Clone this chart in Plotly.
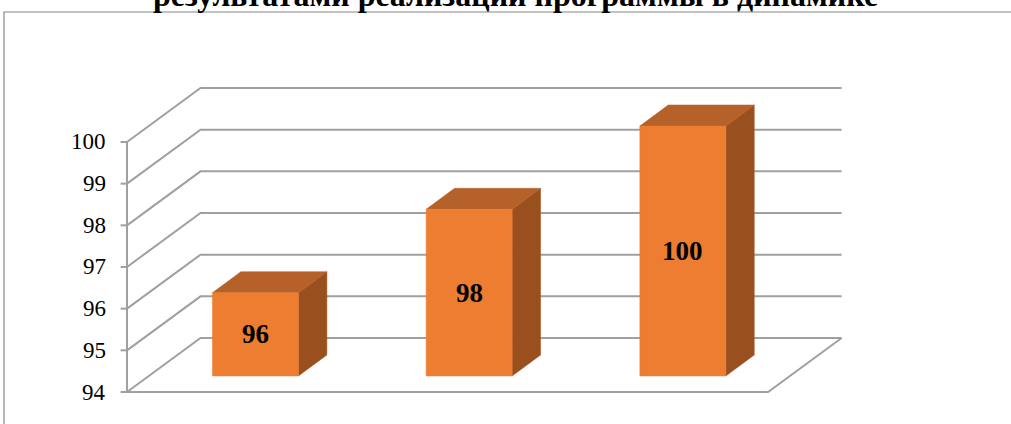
import plotly.graph_objects as go

# ---- data ----
categories = ["1", "2", "3"]
values = [96, 98, 100]
value_labels = ["96", "98", "100"]
y_ticks = [94, 95, 96, 97, 98, 99, 100]
y_tick_labels = ["94", "95", "96", "97", "98", "99", "100"]
title_text = "результатами реализации программы в динамике"

# ---- geometry (in data units) ----
Y0 = 94.0                       # floor value
DX, DY = 0.344, 1.296           # total depth offset of back wall
FX, FY = 0.101, 0.384           # bar front face offset
BX, BY = 0.133, 0.504           # bar depth
BW = 0.4024                     # bar width
X0, X1 = -0.5, len(categories) - 0.5

GRID = "#A0A0A0"
FRONT = "#ED7D31"
TOP = "#B6602A"
SIDE = "#9A501E"

fig = go.Figure()


def poly(xs, ys, color, width=0, fill=None):
    fig.add_trace(go.Scatter(
        x=xs, y=ys, mode="lines",
        line=dict(color=color, width=width),
        fill="toself" if fill else None,
        fillcolor=fill,
        hoverinfo="skip", showlegend=False,
    ))


# back wall gridlines (with diagonal on left wall)
for v in y_ticks:
    poly([X0, X0 + DX, X1 + DX], [v, v + DY, v + DY], GRID, 2)

# floor
poly([X0, X1, X1 + DX], [Y0, Y0, Y0 + DY], GRID, 2)

# front vertical axis + tick marks
poly([X0, X0], [Y0, y_ticks[-1]], GRID, 2)
for v in y_ticks:
    poly([X0 - 0.03, X0], [v, v], GRID, 2)

# bars
for i, v in enumerate(values):
    xl = i - BW / 2 + FX
    xr = i + BW / 2 + FX
    yb = Y0 + FY
    yt = v + FY
    # side face
    poly([xr, xr + BX, xr + BX, xr, xr], [yb, yb + BY, yt + BY, yt, yb], SIDE, 0.5, SIDE)
    # top face
    poly([xl, xr, xr + BX, xl + BX, xl], [yt, yt, yt + BY, yt + BY, yt], TOP, 0.5, TOP)
    # front face
    poly([xl, xr, xr, xl, xl], [yb, yb, yt, yt, yb], FRONT, 0.5, FRONT)
    fig.add_annotation(
        x=i + FX, y=(yb + yt) / 2, xref="x", yref="y",
        text=f"<b>{value_labels[i]}</b>", showarrow=False,
        font=dict(family="Liberation Serif", size=27, color="black"),
        xanchor="center", yanchor="middle",
    )

# tick labels
for v, lab in zip(y_ticks, y_tick_labels):
    fig.add_annotation(
        x=X0 - 0.09, y=v, xref="x", yref="y",
        text=lab, showarrow=False,
        font=dict(family="Liberation Serif", size=23, color="black"),
        xanchor="right", yanchor="middle",
    )

W, H = 1011, 424

# outer chart frame (only left and top edges fall inside the picture)
fig.add_shape(type="rect", xref="paper", yref="paper",
              x0=4 / W, x1=1.03, y0=-0.05, y1=1 - 12 / H,
              line=dict(color="#868686", width=1.2), fillcolor="rgba(0,0,0,0)",
              layer="below")

# clipped title
fig.add_annotation(
    x=515 / W, y=1 - 15 / H, xref="paper", yref="paper",
    text=f"<b>{title_text}</b>", showarrow=False,
    font=dict(family="Liberation Serif", size=32, color="black"),
    xanchor="center", yanchor="bottom",
)

# pixel -> data mapping
px_per_cat = 213.7
px_per_unit = 41.67
x_left = X0 - 127 / px_per_cat
x_right = X0 + (W - 127) / px_per_cat
y_bottom = Y0 - (H - 392) / px_per_unit
y_top = Y0 + 392 / px_per_unit

fig.update_layout(
    width=W, height=H, autosize=False,
    margin=dict(l=0, r=0, t=0, b=0),
    paper_bgcolor="white", plot_bgcolor="white",
    xaxis=dict(visible=False, range=[x_left, x_right], fixedrange=True),
    yaxis=dict(visible=False, range=[y_bottom, y_top], fixedrange=True),
    showlegend=False,
)

fig.write_html(
    "out.html",
    config={"displayModeBar": False},
    post_script="document.body.style.margin='0';document.body.style.overflow='hidden';",
)
